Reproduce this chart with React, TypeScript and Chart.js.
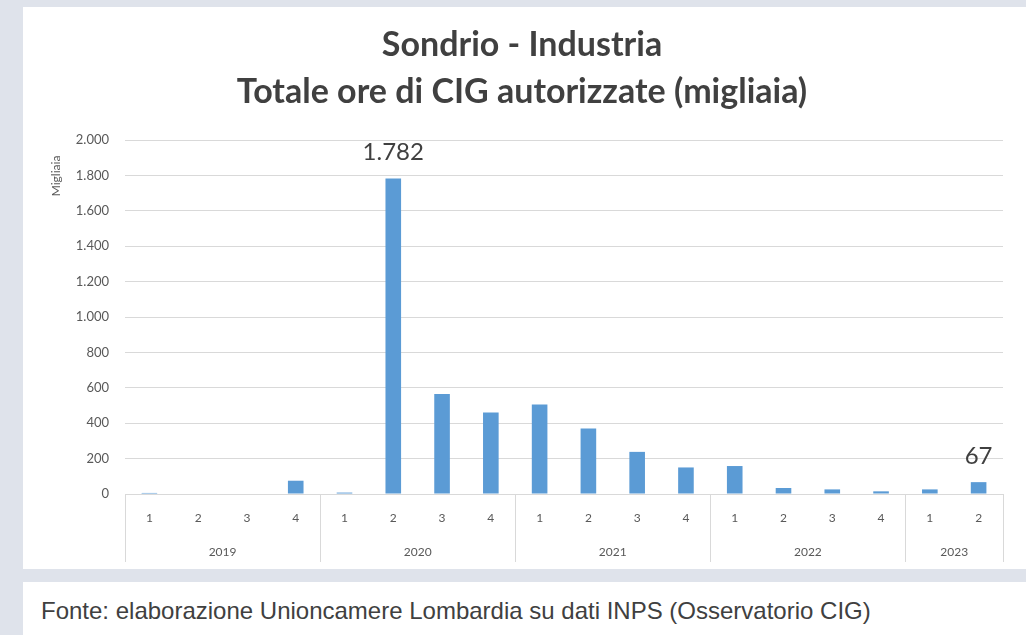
import React, { useEffect, useRef } from "react";
import { Chart, registerables } from "chart.js";

Chart.register(...registerables);

const titleLines = ["Sondrio - Industria", "Totale ore di CIG autorizzate (migliaia)"];
const yAxisTitle = "Migliaia";
const years = ["2019", "2020", "2021", "2022", "2023"];
const quarterCounts = [4, 4, 4, 4, 2];
const quarters = ["1", "2", "3", "4", "1", "2", "3", "4", "1", "2", "3", "4", "1", "2", "3", "4", "1", "2"];
const values = [6, 0, 0, 75, 8, 1782, 565, 460, 505, 370, 238, 150, 158, 34, 26, 15, 26, 67];
const labeledIndices = [5, 17];
const yMax = 2000;
const yStep = 200;
const footerText = "Fonte: elaborazione Unioncamere Lombardia su dati INPS (Osservatorio CIG)";

const fmt = (n: number) => String(n).replace(/\B(?=(\d{3})+(?!\d))/g, ".");

const AXIS_COLOR = "#595959";
const GRID_COLOR = "#d9d9d9";
const BAR_COLOR = "#5b9bd5";
const AXIS_BAND = 68;

const yearRowPlugin = {
  id: "yearRow",
  afterDraw(chart: any) {
    const { ctx, chartArea, scales } = chart;
    const x = scales.x;
    const top = chartArea.bottom;
    const bottom = top + AXIS_BAND;
    const half = (x.getPixelForValue(1) - x.getPixelForValue(0)) / 2;
    ctx.save();
    ctx.strokeStyle = GRID_COLOR;
    ctx.lineWidth = 1;
    ctx.fillStyle = AXIS_COLOR;
    ctx.font = "12px Lato";
    ctx.textAlign = "center";
    ctx.textBaseline = "middle";
    let start = 0;
    const drawV = (px: number) => {
      const xx = Math.round(px) + 0.5;
      ctx.beginPath();
      ctx.moveTo(xx, top);
      ctx.lineTo(xx, bottom);
      ctx.stroke();
    };
    drawV(x.getPixelForValue(0) - half);
    years.forEach((yr, g) => {
      const end = start + quarterCounts[g];
      const left = x.getPixelForValue(start) - half;
      const right = x.getPixelForValue(end - 1) + half;
      drawV(right);
      ctx.fillText(yr, (left + right) / 2, top + 58);
      start = end;
    });
    // y axis title
    ctx.save();
    ctx.translate(chartArea.left - 69, chartArea.top + 36);
    ctx.rotate(-Math.PI / 2);
    ctx.font = "12px Lato";
    ctx.fillText(yAxisTitle, 0, 0);
    ctx.restore();
    ctx.restore();
  },
};

const dataLabelPlugin = {
  id: "dataLabels",
  afterDatasetsDraw(chart: any) {
    const { ctx } = chart;
    const meta = chart.getDatasetMeta(0);
    ctx.save();
    ctx.fillStyle = "#404040";
    ctx.font = "24px Lato";
    ctx.textAlign = "center";
    ctx.textBaseline = "middle";
    labeledIndices.forEach((i) => {
      const el = meta.data[i];
      ctx.fillText(fmt(values[i]), el.x, el.y - 26);
    });
    ctx.restore();
  },
};

export default function App() {
  const ref = useRef<HTMLCanvasElement>(null);
  useEffect(() => {
    if (!ref.current) return;
    const chart = new Chart(ref.current, {
      type: "bar",
      data: {
        labels: quarters,
        datasets: [
          {
            data: values,
            backgroundColor: BAR_COLOR,
            barPercentage: 0.32,
            categoryPercentage: 1,
          },
        ],
      },
      options: {
        animation: false,
        responsive: false,
        maintainAspectRatio: false,
        layout: { padding: { left: 18, right: 23, top: 0, bottom: 7 } },
        plugins: {
          legend: { display: false },
          tooltip: { enabled: false },
          title: {
            display: true,
            text: titleLines,
            color: "#404040",
            font: { family: "Lato", size: 34, weight: "bold", lineHeight: 47 / 34 },
            padding: { top: 15, bottom: 24 },
          },
        },
        scales: {
          x: {
            grid: { display: false, drawTicks: false },
            border: { display: false },
            ticks: { color: AXIS_COLOR, font: { family: "Lato", size: 12 }, padding: 17, maxRotation: 0 },
            afterFit: (s: any) => {
              s.height = AXIS_BAND;
            },
          },
          y: {
            min: 0,
            max: yMax,
            grid: { color: GRID_COLOR, drawTicks: false },
            border: { display: false },
            ticks: {
              stepSize: yStep,
              color: AXIS_COLOR,
              padding: 16,
              font: { family: "Lato", size: 13 },
              callback: (v: any) => fmt(Number(v)),
            },
            afterFit: (s: any) => {
              s.width = 84;
            },
          },
        },
      },
      plugins: [yearRowPlugin, dataLabelPlugin],
    });
    return () => chart.destroy();
  }, []);

  return (
    <div style={{ position: "fixed", left: 0, top: 0, width: 1026, height: 635, background: "#dfe3eb", overflow: "hidden" }}>
      <div style={{ position: "absolute", left: 23, top: 7, width: 1003, height: 562, background: "#ffffff" }}>
        <canvas ref={ref} width={1003} height={562} style={{ display: "block" }} />
      </div>
      <div
        style={{
          position: "absolute",
          left: 23,
          top: 582,
          width: 1003,
          height: 53,
          background: "#ffffff",
          fontFamily: "'Liberation Sans', Arial, sans-serif",
          fontSize: 24,
          color: "#404040",
          lineHeight: "58px",
          paddingLeft: 18,
          boxSizing: "border-box",
          whiteSpace: "nowrap",
          overflow: "hidden",
        }}
      >
        {footerText}
      </div>
    </div>
  );
}
